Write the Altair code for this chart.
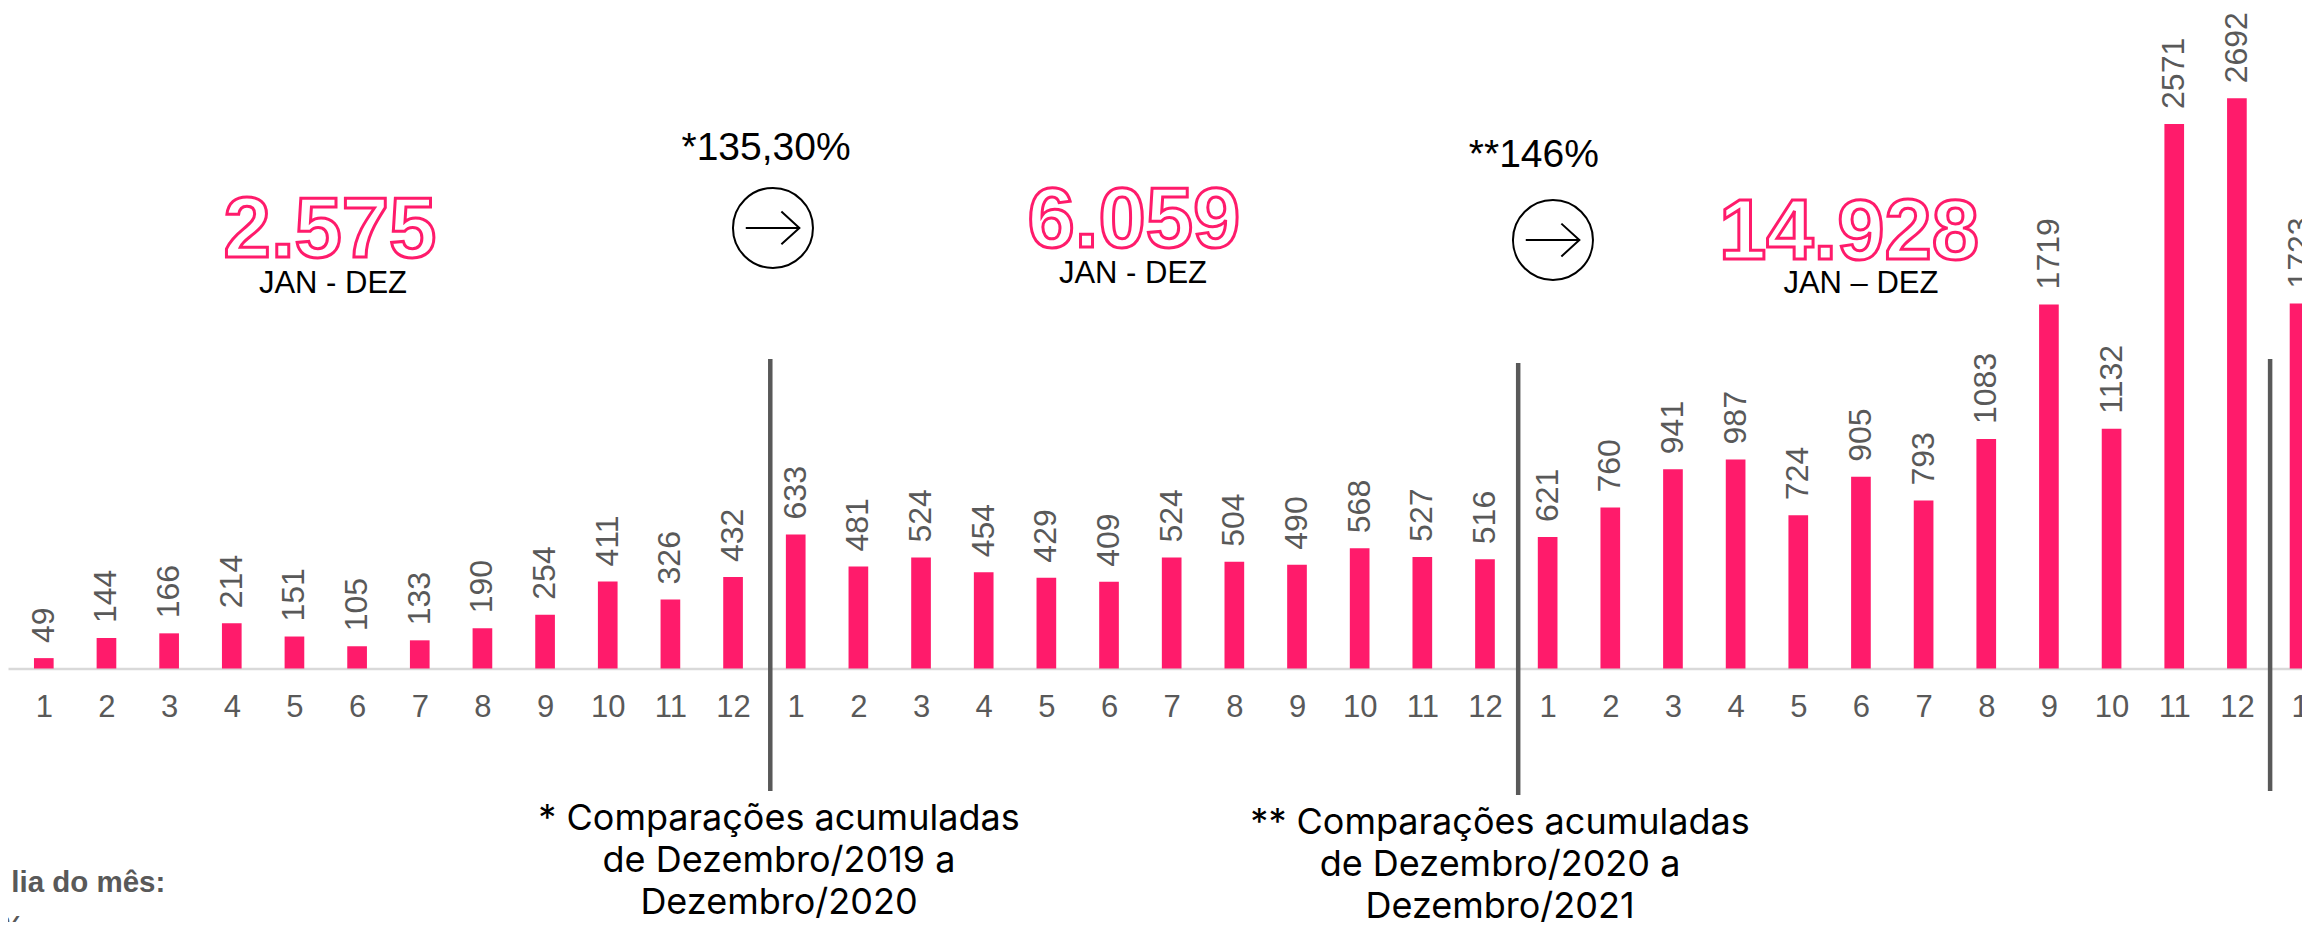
import altair as alt
import pandas as pd

# ------------------------------------------------------------------ data
month_labels = [str(m) for m in range(1, 13)]
values_2019 = [49, 144, 166, 214, 151, 105, 133, 190, 254, 411, 326, 432]
values_2020 = [633, 481, 524, 454, 429, 409, 524, 504, 490, 568, 527, 516]
values_2021 = [621, 760, 941, 987, 724, 905, 793, 1083, 1719, 1132, 2571, 2692]
values_2022 = [1723]

totals = ["2.575", "6.059", "14.928"]
period_labels = ["JAN - DEZ", "JAN - DEZ", "JAN \u2013 DEZ"]
growth_labels = ["*135,30%", "**146%"]
footnotes = [
    "* Comparações acumuladas\nde Dezembro/2019 a\nDezembro/2020",
    "** Comparações acumuladas\nde Dezembro/2020 a\nDezembro/2021",
]
side_notes = ["lia do mês:", "%"]

# ------------------------------------------------------------------ layout
PINK = "#ff1b6b"
GRAY = "#595959"
FONT = "Liberation Sans"

W, H = 2294, 914
X0, STEP = 35.8, 62.66          # plot px of first bar centre, spacing between bars
BASE, K = 660.5, 0.2118         # plot px of the zero line, px per unit
BAR_HALF = 0.157                # half bar width in index units

xs = alt.Scale(domain=[-X0 / STEP, (W - X0) / STEP], nice=False, zero=False)
ys = alt.Scale(domain=[-(H - BASE) / K, BASE / K], nice=False, zero=False)

all_values = values_2019 + values_2020 + values_2021 + values_2022
bars = pd.DataFrame({
    "idx": list(range(len(all_values))),
    "value": all_values,
    "label": [str(v) for v in all_values],
})

xaxis = alt.Axis(
    values=list(range(len(all_values))),
    labelExpr="'' + (datum.value % 12 + 1)",
    offset=-(H - BASE), domainColor="#d9d9d9", domainWidth=2.5,
    ticks=False, tickSize=0, grid=False, labelPadding=24,
    labelFont=FONT, labelFontSize=31, labelColor=GRAY, title="",
    labelFlush=False, labelOverlap=False,
)


def X(field):
    return alt.X(field, type="quantitative", scale=xs, axis=xaxis, title="")


def Y(field):
    return alt.Y(field, type="quantitative", scale=ys, axis=None)


base = alt.Chart(bars)

bar_layer = base.mark_bar(color=PINK).transform_calculate(
    x_lo=f"datum.idx - {BAR_HALF}", x_hi=f"datum.idx + {BAR_HALF}", zero="0"
).encode(x=X("x_lo"), x2="x_hi:Q", y=Y("value"), y2="zero:Q")

value_text = base.mark_text(
    angle=270, align="left", baseline="middle", dx=15,
    font=FONT, fontSize=32, color=GRAY,
).encode(x=X("idx"), y=Y("value"), text="label:N")

# separators between years
seps = pd.DataFrame({
    "sx": [11.594, 23.53, 35.53],
    "top": [1461, 1442, 1461],
    "bot": [-578, -597, -578],
})
sep_layer = alt.Chart(seps).mark_rule(color=GRAY, strokeWidth=4.5).encode(
    x=X("sx"), y=Y("top"), y2="bot:Q"
)

# big outlined totals
tot_df = pd.DataFrame({"ax": [4.567, 17.398, 28.81], "ay": [1943, 1990, 1933], "t": totals})
tot_layer = alt.Chart(tot_df).mark_text(
    font=FONT, fontWeight="bold", fontSize=85, fill="white", stroke=PINK,
    strokeWidth=3, align="center", baseline="alphabetic",
).encode(x=X("ax"), y=Y("ay"), text="t:N")

per_df = pd.DataFrame({"ax": [4.615, 17.382, 29.0], "ay": [1773, 1820, 1773], "t": period_labels})
per_layer = alt.Chart(per_df).mark_text(
    font=FONT, fontSize=31, color="black", align="center", baseline="alphabetic",
).encode(x=X("ax"), y=Y("ay"), text="t:N")

gr_df = pd.DataFrame({"ax": [11.526, 23.78], "ay": [2401, 2368], "t": growth_labels})
gr_layer = alt.Chart(gr_df).mark_text(
    font=FONT, fontSize=39, color="black", align="center", baseline="alphabetic",
).encode(x=X("ax"), y=Y("ay"), text="t:N")

circ_df = pd.DataFrame({"ax": [11.637, 24.085], "ay": [2080, 2023]})
circle_layer = alt.Chart(circ_df).mark_point(
    shape="circle", size=6400, filled=False, stroke="black", strokeWidth=2, opacity=1,
).encode(x=X("ax"), y=Y("ay"))
arrow_layer = alt.Chart(circ_df).mark_point(
    shape="M-0.68,0L0.66,0M0.21,-0.41L0.66,0L0.21,0.41",
    size=6400, filled=False, stroke="black", strokeWidth=2, opacity=1,
).encode(x=X("ax"), y=Y("ay"))

foot_df = pd.DataFrame({"ax": [11.733, 23.24], "ay": [-762, -781], "t": footnotes})
foot_layer = alt.Chart(foot_df).mark_text(
    font="Inter", fontSize=36, color="black", align="center", baseline="alphabetic",
    lineBreak="\n", lineHeight=42,
).encode(x=X("ax"), y=Y("ay"), text="t:N")

side_df = pd.DataFrame({"ax": [1.94, -0.31], "ay": [-1057, -1265], "t": side_notes})
side_layer = alt.Chart(side_df).mark_text(
    font=FONT, fontWeight="bold", fontSize=29.5, color=GRAY, align="right",
    baseline="alphabetic",
).encode(x=X("ax"), y=Y("ay"), text="t:N")

chart = alt.layer(
    bar_layer, value_text, sep_layer, tot_layer, per_layer, gr_layer,
    circle_layer, arrow_layer, foot_layer, side_layer,
).properties(
    width=W, height=H, padding=0, autosize=alt.AutoSizeParams(type="none"),
    background="white",
).configure_view(stroke=None)

chart.save("out.html", embed_options={"renderer": "svg", "actions": False})
